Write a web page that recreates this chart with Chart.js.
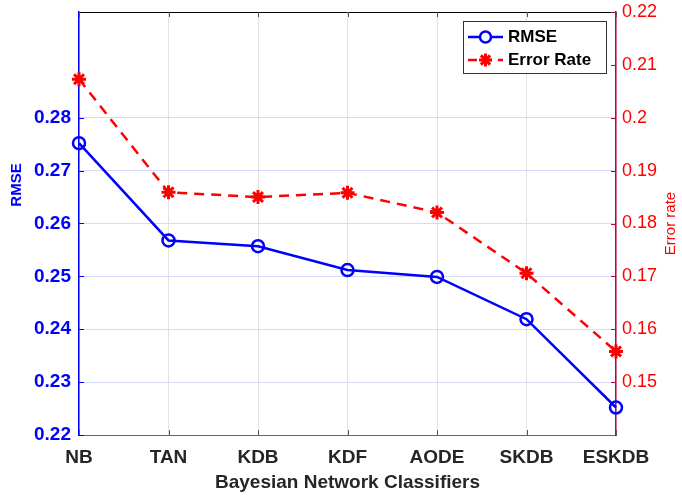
<!DOCTYPE html>
<html>
<head>
<meta charset="utf-8">
<script src="https://cdn.jsdelivr.net/npm/chart.js@4.4.0/dist/chart.umd.min.js"></script>
<style>
  html, body { margin: 0; padding: 0; background: #fff; }
  #wrap { width: 682px; height: 497px; }
</style>
</head>
<body>
<div id="wrap"><canvas id="bnChart" width="682" height="497"></canvas></div>
<script>
// classifiers on the x axis
var classifiers = ['NB', 'TAN', 'KDB', 'KDF', 'AODE', 'SKDB', 'ESKDB'];
// RMSE (left axis)
var rmseValues = [0.2752, 0.2568, 0.2557, 0.2512, 0.2499, 0.2419, 0.2252];
// error rate (right axis)
var errorRates = [0.2073, 0.1859, 0.1850, 0.1858, 0.1821, 0.1706, 0.1558];
// tick ranges
var rmseTicks = [0.22, 0.23, 0.24, 0.25, 0.26, 0.27, 0.28];
var errorTicks = [0.15, 0.16, 0.17, 0.18, 0.19, 0.2, 0.21, 0.22];

var BLUE = '#0000ff';
var RED = '#ff0000';
var FONT = 'Liberation Sans, Arial, sans-serif';

function hasTick(list, v) {
    return list.some(function (t) { return Math.abs(t - v) < 1e-6; });
}

// fixed axis sizes so the plot box sits where we want
function fixWidth(w) {
    return function (scale) {
        scale.width = w;
        scale.paddingTop = 0;
        scale.paddingBottom = 0;
    };
}
function fixHeight(h) {
    return function (scale) {
        scale.height = h;
        scale.paddingLeft = 0;
        scale.paddingRight = 0;
    };
}

// axis titles, tick marks, box edges and the legend
var decorations = {
    id: 'decorations',
    afterDraw: function (chart) {
        var ctx = chart.ctx;
        var area = chart.chartArea;
        var x = chart.scales.x, yl = chart.scales.yRmse, yr = chart.scales.yErr;
        ctx.save();

        // top edge
        ctx.strokeStyle = '#000';
        ctx.lineWidth = 1;
        ctx.beginPath();
        ctx.moveTo(area.left, area.top + 0.5);
        ctx.lineTo(area.right, area.top + 0.5);
        ctx.stroke();

        // inward tick marks on top and bottom
        ctx.strokeStyle = '#555';
        classifiers.forEach(function (c, i) {
            var px = Math.round(x.getPixelForValue(i)) + 0.5;
            ctx.beginPath();
            ctx.moveTo(px, area.bottom);
            ctx.lineTo(px, area.bottom - 5);
            ctx.moveTo(px, area.top);
            ctx.lineTo(px, area.top + 5);
            ctx.stroke();
        });

        // inward ticks on the left axis
        ctx.strokeStyle = BLUE;
        rmseTicks.forEach(function (t) {
            var py = Math.round(yl.getPixelForValue(t)) + 0.5;
            ctx.beginPath();
            ctx.moveTo(area.left, py);
            ctx.lineTo(area.left + 5, py);
            ctx.stroke();
        });

        // inward ticks on the right axis
        ctx.strokeStyle = '#c0004a';
        errorTicks.forEach(function (t) {
            var py = Math.round(yr.getPixelForValue(t)) + 0.5;
            ctx.beginPath();
            ctx.moveTo(area.right, py);
            ctx.lineTo(area.right - 5, py);
            ctx.stroke();
        });

        // axis titles
        ctx.textAlign = 'center';
        ctx.textBaseline = 'middle';
        ctx.save();
        ctx.translate(17, 185);
        ctx.rotate(-Math.PI / 2);
        ctx.fillStyle = BLUE;
        ctx.font = 'bold 15px ' + FONT;
        ctx.fillText('RMSE', 0, 0);
        ctx.restore();

        ctx.save();
        ctx.translate(671, (area.top + area.bottom) / 2);
        ctx.rotate(-Math.PI / 2);
        ctx.fillStyle = RED;
        ctx.font = '15px ' + FONT;
        ctx.fillText('Error rate', 0, 0);
        ctx.restore();

        ctx.fillStyle = '#262626';
        ctx.font = 'bold 19px ' + FONT;
        ctx.fillText('Bayesian Network Classifiers', (area.left + area.right) / 2, 483);

        // legend box
        var lx = 463, ly = 21, lw = 143, lh = 52;
        ctx.fillStyle = '#fff';
        ctx.fillRect(lx, ly, lw, lh);
        ctx.strokeStyle = '#333';
        ctx.lineWidth = 1;
        ctx.strokeRect(lx + 0.5, ly + 0.5, lw, lh);

        // RMSE entry
        ctx.lineWidth = 2.5;
        ctx.strokeStyle = BLUE;
        ctx.beginPath();
        ctx.moveTo(468, 37);
        ctx.lineTo(503, 37);
        ctx.stroke();
        ctx.beginPath();
        ctx.fillStyle = '#fff';
        ctx.arc(485.5, 37, 5.5, 0, Math.PI * 2);
        ctx.fill();
        ctx.stroke();

        // Error Rate entry
        ctx.strokeStyle = RED;
        ctx.setLineDash([9, 6]);
        ctx.beginPath();
        ctx.moveTo(468, 60);
        ctx.lineTo(503, 60);
        ctx.stroke();
        ctx.setLineDash([]);
        ctx.lineWidth = 3;
        var r = 6.5;
        for (var k = 0; k < 4; k++) {
            var a = k * Math.PI / 4;
            ctx.beginPath();
            ctx.moveTo(485.5 - r * Math.cos(a), 60 - r * Math.sin(a));
            ctx.lineTo(485.5 + r * Math.cos(a), 60 + r * Math.sin(a));
            ctx.stroke();
        }

        ctx.fillStyle = '#000';
        ctx.textAlign = 'left';
        ctx.font = 'bold 17px ' + FONT;
        ctx.fillText('RMSE', 508, 37);
        ctx.fillText('Error Rate', 508, 60);

        ctx.restore();
    }
};

var ctx = document.getElementById('bnChart').getContext('2d');
var chart = new Chart(ctx, {
    type: 'line',
    data: {
        labels: classifiers,
        datasets: [
            {
                label: 'RMSE',
                data: rmseValues,
                yAxisID: 'yRmse',
                borderColor: BLUE,
                backgroundColor: '#fff',
                borderWidth: 2.5,
                pointStyle: 'circle',
                pointRadius: 6,
                pointBorderWidth: 2.5,
                pointBackgroundColor: 'rgba(255,255,255,0)',
                pointBorderColor: BLUE,
                tension: 0,
                clip: false
            },
            {
                label: 'Error Rate',
                data: errorRates,
                yAxisID: 'yErr',
                borderColor: RED,
                borderWidth: 2.5,
                borderDash: [10, 7],
                pointStyle: 'star',
                pointRadius: 7,
                pointBorderWidth: 3,
                pointBorderColor: RED,
                pointBackgroundColor: RED,
                tension: 0,
                clip: false
            }
        ]
    },
    options: {
        responsive: false,
        animation: false,
        layout: { padding: { top: 12, left: 0, right: 0, bottom: 0 } },
        plugins: {
            legend: { display: false },
            tooltip: { enabled: false }
        },
        scales: {
            x: {
                type: 'category',
                offset: false,
                afterFit: fixHeight(62),
                grid: {
                    color: '#e2e2e2',
                    lineWidth: 1,
                    drawTicks: false
                },
                border: { color: '#666', width: 1 },
                ticks: {
                    color: '#262626',
                    padding: 11,
                    maxRotation: 0,
                    autoSkip: false,
                    font: { family: FONT, size: 19, weight: 'bold' }
                }
            },
            yRmse: {
                position: 'left',
                min: 0.22,
                max: 0.30,
                afterFit: fixWidth(79),
                afterBuildTicks: function (scale) {
                    scale.ticks = rmseTicks.map(function (v) { return { value: v }; });
                },
                grid: {
                    color: function (c) {
                        return hasTick(rmseTicks, c.tick.value) ? '#d8d8f8' : 'rgba(0,0,0,0)';
                    },
                    drawTicks: false
                },
                border: { color: BLUE, width: 1.5 },
                ticks: {
                    color: BLUE,
                    padding: 8,
                    font: { family: FONT, size: 19, weight: 'bold' },
                    callback: function (v) { return Number(v.toFixed(2)).toString(); }
                }
            },
            yErr: {
                position: 'right',
                min: 0.14,
                max: 0.22,
                afterFit: fixWidth(66),
                afterBuildTicks: function (scale) {
                    scale.ticks = errorTicks.map(function (v) { return { value: v }; });
                },
                grid: { drawOnChartArea: false, drawTicks: false },
                border: { color: '#c0004a', width: 1.5 },
                ticks: {
                    color: RED,
                    padding: 6,
                    font: { family: FONT, size: 18 },
                    callback: function (v) { return Number(v.toFixed(2)).toString(); }
                }
            }
        }
    },
    plugins: [decorations]
});
</script>
</body>
</html>
